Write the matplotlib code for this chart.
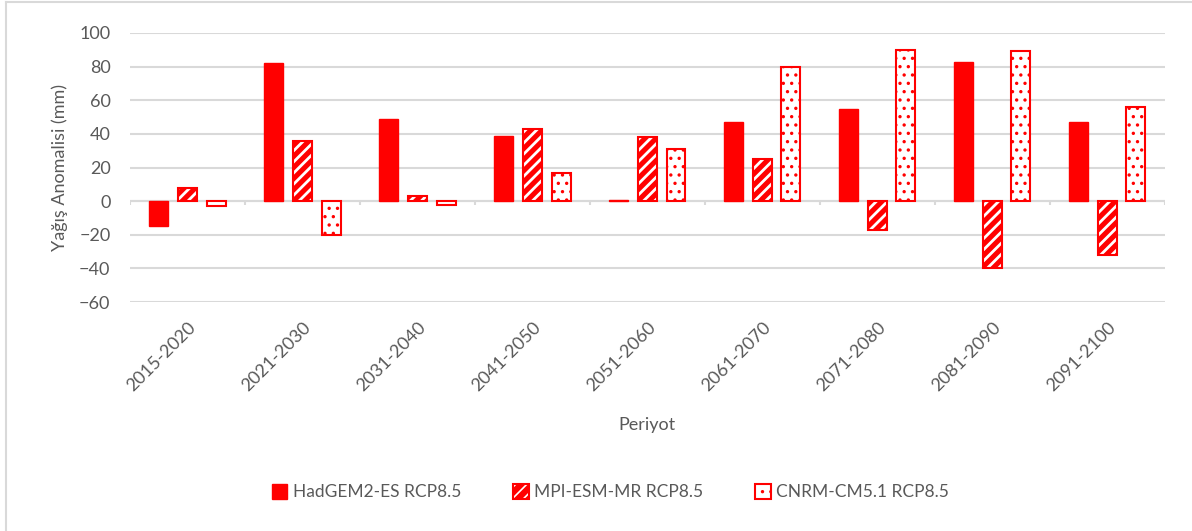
"""
Yağış anomalisi - RCP8.5 senaryoları
"""

import numpy as np
import matplotlib.pyplot as plt
import matplotlib.patches as mpatches
from matplotlib.lines import Line2D

# ==========================================
# Data
# ==========================================

periods = [
    "2015-2020", "2021-2030", "2031-2040", "2041-2050", "2051-2060",
    "2061-2070", "2071-2080", "2081-2090", "2091-2100",
]

hadgem = [-15, 82, 49, 39, 1, 47, 55, 83, 47]
mpi = [8, 36, 3, 43, 38, 25, -17, -40, -32]
cnrm = [-3, -20, -2, 17, 31, 80, 90, 89, 56]

labels = [
    "HadGEM2-ES RCP8.5",
    "MPI-ESM-MR RCP8.5",
    "CNRM-CM5.1 RCP8.5",
]

# ==========================================
# Style
# ==========================================

RED = "#ff0000"
GRID = "#d9d9d9"
TEXT = "#595959"

plt.rcParams["font.family"] = ["Lato", "DejaVu Sans"]

fig = plt.figure(figsize=(11.92, 5.31), dpi=100)
ax = fig.add_axes([0.109, 0.431, 0.868, 0.507])

x = np.arange(len(periods))
w = 0.165
step = 0.25

# HadGEM: solid
ax.bar(x - step, hadgem, w, color=RED, edgecolor=RED, linewidth=1, zorder=3)

# MPI: red with white diagonal stripes
plt.rcParams["hatch.linewidth"] = 2.0
ax.bar(x, mpi, w, color=RED, edgecolor="white", hatch="///", linewidth=0, zorder=3)
ax.bar(x, mpi, w, facecolor="none", edgecolor=RED, linewidth=1.5, zorder=4)
h2 = mpatches.Patch(facecolor=RED, edgecolor="white", hatch="///", linewidth=0)

# CNRM: white with small red dots
plt.rcParams["hatch.linewidth"] = 1.2
ax.bar(x + step, cnrm, w, color="white", edgecolor=RED, hatch="..", linewidth=0, zorder=3)
ax.bar(x + step, cnrm, w, facecolor="none", edgecolor=RED, linewidth=1.5, zorder=4)
h3 = mpatches.Patch(facecolor="white", edgecolor=RED, hatch="..", linewidth=0)

# ==========================================
# Axes
# ==========================================

ax.set_xlim(-0.5, len(periods) - 0.5)
ax.set_ylim(-60, 100)
ax.set_yticks(np.arange(-60, 101, 20))
ax.yaxis.grid(True, color=GRID, linewidth=1.5, zorder=0)
ax.set_axisbelow(True)

for s in ax.spines.values():
    s.set_visible(False)

ax.axhline(0, color=GRID, linewidth=1.5, zorder=2)
bounds = np.arange(len(periods) + 1) - 0.5
ax.vlines(bounds, -2.5, 0, color=GRID, linewidth=1.5, zorder=2)

ax.set_xticks(x)
ax.set_xticklabels(periods, rotation=45, ha="right", rotation_mode="anchor")
ax.tick_params(axis="x", length=0, pad=12, labelsize=13, labelcolor=TEXT)
ax.tick_params(axis="y", length=0, pad=14, labelsize=13, labelcolor=TEXT)

ax.set_xlabel("Periyot", fontsize=13, color=TEXT, labelpad=17)
ax.set_ylabel("Yağış Anomalisi (mm)", fontsize=13, color=TEXT, labelpad=8)

# ==========================================
# Legend
# ==========================================

outline = mpatches.Patch(facecolor="none", edgecolor=RED, linewidth=1.5)
h1 = mpatches.Patch(facecolor=RED, edgecolor=RED)

fig.legend(
    [h1, (h2, outline), (h3, outline)], labels,
    loc="center", bbox_to_anchor=(0.512, 0.073), ncol=3,
    frameon=False, fontsize=12.5, labelcolor=TEXT,
    handlelength=0.9, handleheight=0.9, handletextpad=0.3,
    columnspacing=3.0,
)

# chart frame (top and left only)
fig.add_artist(Line2D([0.005, 1.0], [0.996, 0.996], color=GRID, linewidth=1.5))
fig.add_artist(Line2D([0.005, 0.005], [0.0, 0.996], color=GRID, linewidth=1.5))

fig.savefig("out.png", dpi=100)
